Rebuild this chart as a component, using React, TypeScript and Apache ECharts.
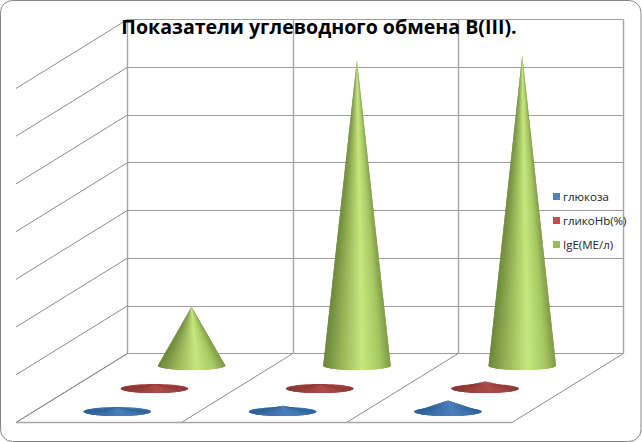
import React, { useEffect, useRef } from "react";
import * as echarts from "echarts";

const titleText = "Показатели углеводного обмена В(III).";
const categories = ["1", "2", "3"];
const glucose = [4.5, 6, 11.5];
const glycoHb = [4.5, 4.8, 7.3];
const ige = [61.5, 320, 325];
const ticks = [0, 50, 100, 150, 200, 250, 300, 350];
const boundaries = [0, 1, 2, 3];
const seriesNames = ["глюкоза", "гликоHb(%)", "IgE(МЕ/л)"];
const legendColors = ["#4f81bd", "#c0504d", "#9bbb59"];

const stopsAt = [0, 0.3, 0.58, 0.85, 1];
const greenRamp = ["#6b883a", "#9dba5c", "#c6e87e", "#a6c662", "#7e9b44"];
const redRamp = ["#8c3836", "#a04341", "#ad4a48", "#9f4341", "#8f3a38"];
const blueRamp = ["#2f5f96", "#3f72ac", "#4b80bd", "#3f72ac", "#31639b"];

const DX = 111.5;
const DY = 69;

const hex = (c: string) => [1, 3, 5].map((i) => parseInt(c.slice(i, i + 2), 16));
function shade(ramp: string[], t: number) {
  let k = 0;
  while (k < stopsAt.length - 2 && t > stopsAt[k + 1]) k++;
  const f = (t - stopsAt[k]) / (stopsAt[k + 1] - stopsAt[k]);
  const a = hex(ramp[k]);
  const b = hex(ramp[k + 1]);
  return `rgb(${a.map((v, i) => Math.round(v + (b[i] - v) * f)).join(",")})`;
}

function coneSeries(name: string, values: number[], ramp: string[], depth: number, color: string) {
  return {
    type: "custom",
    name,
    itemStyle: { color },
    encode: { x: 0, y: 1 },
    data: values.map((v, i) => [i, v]),
    silent: true,
    renderItem: (_p: any, api: any) => {
      const i = api.value(0);
      const band = api.size([1, 0])[0];
      const base = api.coord([i, 0]);
      const top = api.coord([i, api.value(1)]);
      const cx = base[0] - DX * depth;
      const cy = base[1] + DY * depth + 0.5;
      const apexY = top[1] + DY * depth + 0.5;
      const a = band * 0.204;
      const b = a * 0.134;
      const children: any[] = [
        {
          type: "ellipse",
          shape: { cx, cy, rx: a, ry: b },
          style: {
            fill: {
              type: "linear",
              x: 0,
              y: 0,
              x2: 1,
              y2: 0,
              colorStops: stopsAt.map((s, k) => ({ offset: s, color: ramp[k] })),
            },
          },
        },
      ];
      const N = 40;
      const pt = (k: number) => {
        const th = Math.PI - (Math.PI * k) / N;
        return [cx + a * Math.cos(th), cy + b * Math.sin(th)];
      };
      for (let k = 0; k < N; k++) {
        const p0 = pt(k);
        const p1 = pt(k + 1);
        const p2 = pt(Math.min(k + 2, N));
        const t = (0.5 * (p0[0] + p1[0]) - (cx - a)) / (2 * a);
        children.push({
          type: "polygon",
          shape: { points: [[cx, apexY], p0, p1, p2] },
          style: { fill: shade(ramp, t) },
        });
      }
      return { type: "group", children };
    },
  };
}

export default function App() {
  const ref = useRef<HTMLDivElement>(null);
  useEffect(() => {
    document.body.style.margin = "0";
    const chart = echarts.init(ref.current!, null, { renderer: "svg" });
    chart.setOption({
      animation: false,
      title: {
        text: titleText,
        left: 314,
        top: 11,
        textAlign: "center",
        textStyle: { fontFamily: "Open Sans", fontSize: 19.6, fontWeight: "bold", color: "#000" },
      },
      legend: {
        orient: "vertical",
        left: 548,
        top: 184.5,
        icon: "rect",
        itemWidth: 7,
        itemHeight: 7,
        itemGap: 10,
        data: seriesNames,
        selectedMode: false,
        textStyle: {
          fontFamily: "Open Sans",
          fontSize: 11.5,
          color: "#222",
          lineHeight: 14,
          padding: [0, 0, 0, -2],
        },
      },
      graphic: [
        {
          type: "rect",
          silent: true,
          z: -1,
          shape: { x: 0.5, y: 0.5, width: 640.5, height: 441, r: 12 },
          style: { fill: "none", stroke: "#868686", lineWidth: 1 },
        },
      ],
      grid: { left: 127.5, top: 19.5, width: 496, height: 334 },
      xAxis: {
        type: "category",
        data: categories,
        axisLine: { show: false },
        axisTick: { show: false },
        axisLabel: { show: false },
        splitLine: { show: true, interval: 0, lineStyle: { color: "#a6a6a6", width: 1.4 } },
      },
      yAxis: {
        type: "value",
        min: 0,
        max: 350,
        interval: 50,
        axisLine: { show: false },
        axisTick: { show: false },
        axisLabel: { show: false },
        splitLine: { show: true, lineStyle: { color: "#9c9c9c", width: 1 } },
      },
      series: [
        {
          type: "custom",
          name: "walls",
          silent: true,
          encode: { y: 0 },
          data: ticks.map((t) => [t]),
          renderItem: (p: any, api: any) => {
            const y = api.coord([0, api.value(0)])[1];
            const x = p.coordSys.x;
            return {
              type: "line",
              shape: { x1: x, y1: y, x2: x - DX, y2: y + DY },
              style: { stroke: "#8c8c8c", lineWidth: 1 },
            };
          },
        },
        {
          type: "custom",
          name: "floor",
          silent: true,
          encode: { x: 0 },
          data: boundaries.map((b) => [b]),
          renderItem: (p: any, api: any) => {
            const band = p.coordSys.width / categories.length;
            const x = p.coordSys.x + api.value(0) * band;
            const y = p.coordSys.y + p.coordSys.height;
            const children: any[] = [
              {
                type: "line",
                shape: { x1: x, y1: y, x2: x - DX, y2: y + DY },
                style: { stroke: "#8c8c8c", lineWidth: 1 },
              },
            ];
            if (api.value(0) < categories.length) {
              children.push({
                type: "line",
                shape: { x1: x - DX, y1: y + DY, x2: x - DX + band, y2: y + DY },
                style: { stroke: "#a6a6a6", lineWidth: 1.4 },
              });
            }
            return { type: "group", children };
          },
        },
        coneSeries(seriesNames[2], ige, greenRamp, 1 / 6, legendColors[2]),
        coneSeries(seriesNames[1], glycoHb, redRamp, 3 / 6, legendColors[1]),
        coneSeries(seriesNames[0], glucose, blueRamp, 5 / 6, legendColors[0]),
      ],
    });
    return () => chart.dispose();
  }, []);
  return <div ref={ref} style={{ width: 642, height: 442 }} />;
}
